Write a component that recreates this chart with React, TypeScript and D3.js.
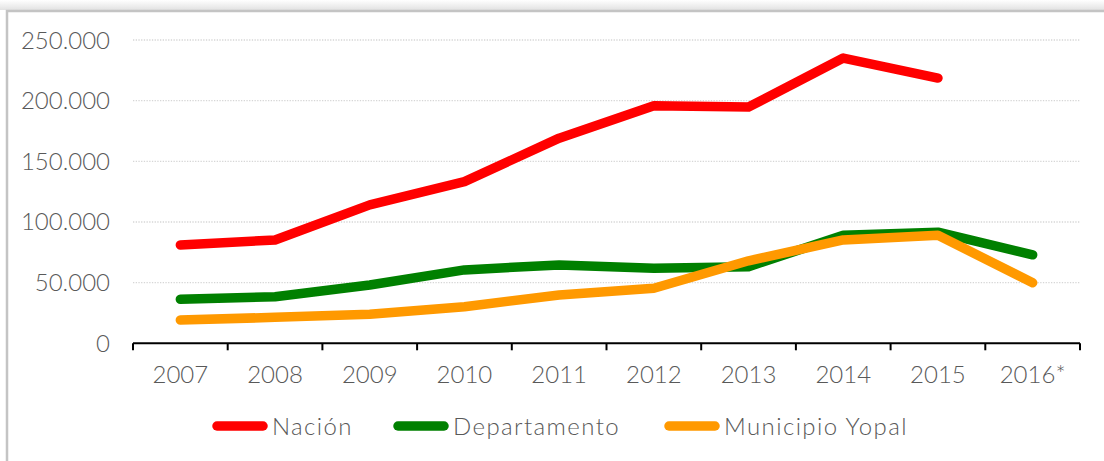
import React from "react";
import * as d3 from "d3";

const categories = ["2007", "2008", "2009", "2010", "2011", "2012", "2013", "2014", "2015", "2016*"];
const nacion: (number | null)[] = [81100, 85200, 114100, 133300, 169100, 195800, 194700, 235100, 218600, null];
const departamento: (number | null)[] = [36300, 38400, 48100, 60500, 64600, 61900, 63200, 89000, 91600, 72900];
const municipio: (number | null)[] = [19200, 21400, 23900, 30200, 39800, 45400, 68000, 85200, 89000, 50000];
const yTicks = [0, 50000, 100000, 150000, 200000, 250000];

const seriesList = [
  { name: "Nación", values: nacion, color: "#FF0000" },
  { name: "Departamento", values: departamento, color: "#008000" },
  { name: "Municipio Yopal", values: municipio, color: "#FF9900" },
];

const FONT = "Lato, 'Liberation Sans', sans-serif";
const TEXT = "#595959";

export default function App() {
  const left = 133, right = 1080, top = 40, bottom = 343.3;
  const x = d3.scaleBand<string>().domain(categories).range([left, right]).paddingInner(0).paddingOuter(0);
  const y = d3.scaleLinear().domain([0, 250000]).range([bottom, top]);
  const fmt = d3.formatLocale({ thousands: ".", grouping: [3], decimal: ",", currency: ["$", ""] }).format(",");
  const cx = (c: string) => (x(c) as number) + x.bandwidth() / 2;

  const line = d3
    .line<number | null>()
    .defined((d) => d !== null)
    .x((_, i) => cx(categories[i]))
    .y((d) => y(d as number));

  const legendX = [212, 393, 664];
  const legendY = 426;

  return (
    <svg width={1104} height={461} style={{ position: "absolute", left: 0, top: 0, background: "#fff" }}>
      <defs>
        <linearGradient id="topShadow" x1="0" y1="0" x2="0" y2="1">
          <stop offset="0" stopColor="#ffffff" />
          <stop offset="1" stopColor="#e2e2e2" />
        </linearGradient>
      </defs>
      <rect x={0} y={0} width={1104} height={10} fill="url(#topShadow)" />
      <rect x={7} y={11} width={1110} height={470} fill="#fff" stroke="#c4c4c4" strokeWidth={2.5} />

      {yTicks.filter((t) => t > 0).map((t) => (
        <line key={t} x1={left} x2={right} y1={y(t)} y2={y(t)} stroke="#d6d6d6" strokeWidth={1.3} strokeDasharray="1.3 1.4" />
      ))}
      {yTicks.map((t) => (
        <text key={"l" + t} x={110} y={y(t) + 8.5} textAnchor="end" fontFamily={FONT} fontWeight={300} fontSize={24} fill={TEXT}>
          {fmt(t)}
        </text>
      ))}

      <line x1={left} x2={right} y1={bottom} y2={bottom} stroke="#000" strokeWidth={2} />
      {categories.map((c) => (
        <line key={"t" + c} x1={x(c) as number} x2={x(c) as number} y1={bottom} y2={bottom + 7} stroke="#000" strokeWidth={2} />
      ))}
      <line x1={right} x2={right} y1={bottom} y2={bottom + 7} stroke="#000" strokeWidth={2} />
      {categories.map((c) => (
        <text key={"x" + c} x={cx(c)} y={383} textAnchor="middle" fontFamily={FONT} fontWeight={300} fontSize={24} fill={TEXT}>
          {c}
        </text>
      ))}

      {seriesList.map((s) => (
        <path key={s.name} d={line(s.values) || ""} fill="none" stroke={s.color} strokeWidth={9.5} strokeLinecap="round" strokeLinejoin="round" />
      ))}

      {seriesList.map((s, i) => (
        <g key={"lg" + s.name}>
          <line x1={legendX[i] + 5} x2={legendX[i] + 51} y1={legendY} y2={legendY} stroke={s.color} strokeWidth={9.5} strokeLinecap="round" />
          <text x={legendX[i] + 60} y={legendY + 9} fontFamily={FONT} fontWeight={300} fontSize={24} letterSpacing={1.4} fill={TEXT}>
            {s.name}
          </text>
        </g>
      ))}
    </svg>
  );
}
